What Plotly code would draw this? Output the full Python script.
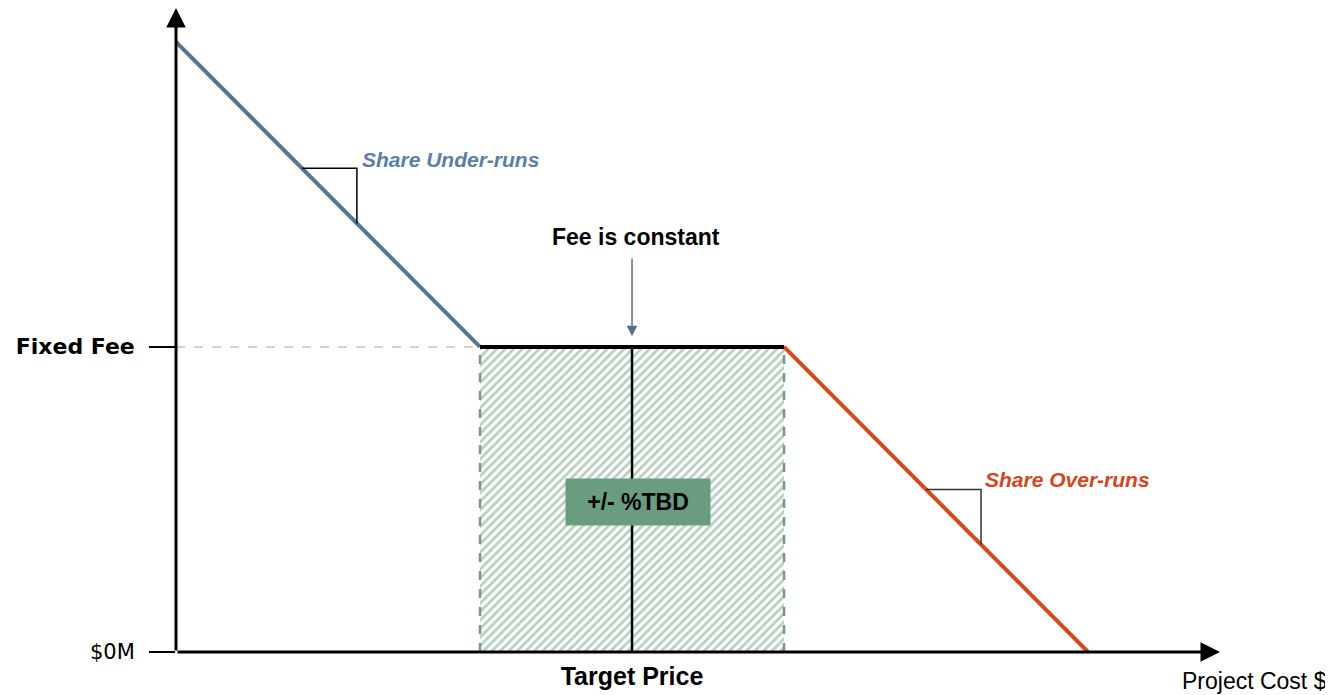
import plotly.graph_objects as go

# ---- data (cost units on x, fee units on y) ----
under_x = [0, 100]
under_y = [20, 10]
flat_x = [100, 200]
flat_y = [10, 10]
over_x = [200, 300]
over_y = [10, 0]
target_price = 150
band_x = [100, 200]
fixed_fee = 10
under_tri_x = [41.4, 59.5, 59.5]
under_tri_y = [15.86, 15.86, 14.05]
over_tri_x = [246.7, 264.8, 264.8]
over_tri_y = [5.33, 5.33, 3.52]
y_tick_vals = [0, 10]
y_tick_text = ['$0M', '<b><span style="font-family:DejaVu Sans;font-size:22px">Fixed Fee</span></b>']
x_tick_vals = [150]
x_tick_text = ['<b>Target Price</b>']
x_max = 343.4
y_max = 21.11

BLUE = '#577590'
ORANGE = '#d8481a'
GREEN = '#6b9e80'

fig = go.Figure()

# hatched band
fig.add_trace(go.Scatter(
    x=[band_x[0], band_x[1], band_x[1], band_x[0], band_x[0]],
    y=[0, 0, fixed_fee, fixed_fee, 0],
    fill='toself', mode='none',
    fillpattern=dict(shape='/', fgcolor=GREEN, bgcolor='white', size=6, solidity=0.45),
    hoverinfo='skip', showlegend=False))
# dashed band sides
for bx in band_x:
    fig.add_trace(go.Scatter(x=[bx, bx], y=[0, fixed_fee], mode='lines',
                             line=dict(color=GREEN, width=2.5, dash='dash'),
                             showlegend=False, hoverinfo='skip'))
# dashed fixed fee guide
fig.add_trace(go.Scatter(x=[0, band_x[0]], y=[fixed_fee, fixed_fee], mode='lines',
                         line=dict(color='#c5c8b0', width=1.5, dash='dash'),
                         showlegend=False, hoverinfo='skip'))
# target price vertical
fig.add_trace(go.Scatter(x=[target_price, target_price], y=[0, fixed_fee], mode='lines',
                         line=dict(color='black', width=2.5), showlegend=False, hoverinfo='skip'))
# fee lines
fig.add_trace(go.Scatter(x=under_x, y=under_y, mode='lines',
                         line=dict(color=BLUE, width=4), showlegend=False, hoverinfo='skip'))
fig.add_trace(go.Scatter(x=over_x, y=over_y, mode='lines',
                         line=dict(color=ORANGE, width=4), showlegend=False, hoverinfo='skip'))
fig.add_trace(go.Scatter(x=flat_x, y=flat_y, mode='lines',
                         line=dict(color='black', width=4), showlegend=False, hoverinfo='skip'))
# slope triangles
fig.add_trace(go.Scatter(x=under_tri_x, y=under_tri_y, mode='lines',
                         line=dict(color='black', width=1.5), showlegend=False, hoverinfo='skip'))
fig.add_trace(go.Scatter(x=over_tri_x, y=over_tri_y, mode='lines',
                         line=dict(color='#333333', width=1.5), showlegend=False, hoverinfo='skip'))

annotations = [
    # axis arrows
    dict(x=x_max, y=0, ax=0, ay=0, xref='x', yref='y', axref='x', ayref='y',
         text='', showarrow=True, arrowhead=2, arrowsize=1.3, arrowwidth=3, arrowcolor='black'),
    dict(x=0, y=y_max, ax=0, ay=0, xref='x', yref='y', axref='x', ayref='y',
         text='', showarrow=True, arrowhead=2, arrowsize=1.3, arrowwidth=3, arrowcolor='black'),
    # fee is constant arrow
    dict(x=target_price, y=10.35, ax=target_price, ay=12.95, xref='x', yref='y', axref='x', ayref='y',
         text='', showarrow=True, arrowhead=2, arrowsize=1.4, arrowwidth=1.5, arrowcolor='#5a7088'),
    dict(x=151.3, y=13.6, text='<b>Fee is constant</b>', showarrow=False,
         font=dict(family='Liberation Sans, Arial', size=23, color='black')),
    dict(x=60.5, y=16.13, xanchor='left', text='<b><i>Share Under-runs</i></b>', showarrow=False,
         font=dict(family='Liberation Sans, Arial', size=21, color='#5a7ea5')),
    dict(x=265.5, y=5.64, xanchor='left', text='<b><i>Share Over-runs</i></b>', showarrow=False,
         font=dict(family='Liberation Sans, Arial', size=21, color='#d9441a')),
    dict(x=152.0, y=4.92, text='<b>+/- %TBD</b>', showarrow=False, bgcolor='#6a9d7f',
         width=142, height=44, valign='middle',
         font=dict(family='Liberation Sans, Arial', size=23, color='black')),
    dict(x=330.3, y=-0.045, xref='x', yref='paper', xanchor='left', yanchor='middle',
         text='Project Cost $', showarrow=False,
         font=dict(family='Liberation Sans, Arial', size=23, color='black')),
]

fig.update_layout(
    width=1325, height=687,
    margin=dict(l=168, r=113, t=0, b=43),
    paper_bgcolor='white', plot_bgcolor='white',
    annotations=annotations,
    xaxis=dict(range=[0, x_max], showgrid=False, zeroline=False, showline=False,
               tickvals=x_tick_vals, ticktext=x_tick_text, ticks='', automargin=False,
               tickfont=dict(family='Liberation Sans, Arial', size=25, color='black'),
               ticklabelstandoff=7, fixedrange=True),
    yaxis=dict(range=[0, y_max], showgrid=False, zeroline=False, showline=False,
               tickvals=y_tick_vals, ticktext=y_tick_text, ticks='outside', ticklen=26,
               tickwidth=2, tickcolor='black', automargin=False,
               tickfont=dict(family='DejaVu Sans', size=21, color='black'),
               ticklabelstandoff=10, fixedrange=True),
)

fig.write_html('out.html')
